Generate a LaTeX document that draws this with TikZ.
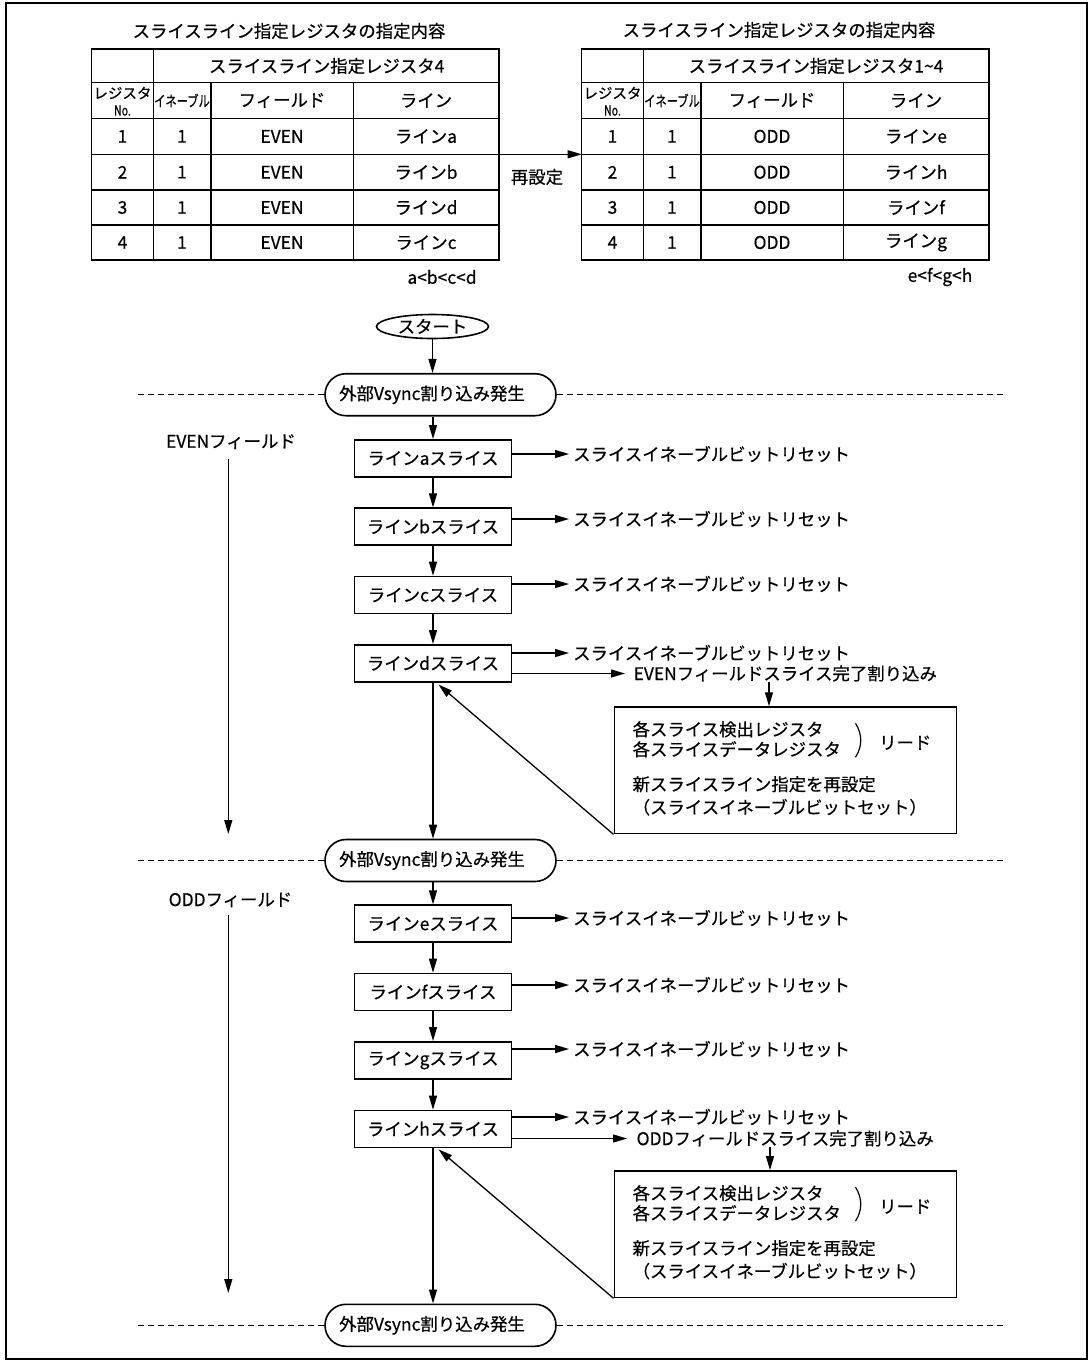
\documentclass[tikz,border=0pt]{standalone}
\usepackage{fontspec}
\setmainfont{Noto Sans CJK JP}[FakeBold=0.5]
\newfontfamily\jpnarrow[FakeStretch=0.75,FakeBold=0.5]{Noto Sans CJK JP}
\usetikzlibrary{arrows.meta,shapes.geometric}
\newcommand{\fsz}{\fontsize{17.4}{21}\selectfont}

\begin{document}
\begin{tikzpicture}
		[x=1pt, y=-1pt, line width=1.3pt, >={Triangle[length=14pt,width=8pt]},
		every node/.style={font=\fsz, inner sep=0},
		slicebox/.style={draw, line width=1.6pt, minimum width=157pt, minimum height=37pt},
		vsync/.style={draw, line width=1.6pt, rounded corners=21pt, minimum width=231pt, minimum height=42pt},
		readbox/.style={draw, line width=1.6pt, minimum width=342pt, minimum height=126.5pt},
		note/.style={anchor=west, inner xsep=3.5pt},
		field/.style={dash pattern=on 6pt off 4pt, line width=1.1pt}]
		\useasboundingbox (0,0) rectangle (1088,1361);
		\draw[line width=2pt] (5.7,3) rectangle (1086.5,1358.5);
		\node (ttl1) at (289,31) {スライスライン指定レジスタの指定内容};
		\node (ttl2) at (779,30) {スライスライン指定レジスタの指定内容};
		\foreach \dx in {0,490}
		{
			\draw[line width=1.5pt] (91.7+\dx,49) rectangle (499+\dx,260);
			\foreach \y in {82.7,118.5,154.3,190,225}
				\draw (91.7+\dx,\y) -- (499+\dx,\y);
			\draw (153.3+\dx,49) -- (153.3+\dx,260);
			\foreach \x in {211,353.3}
				\draw (\x+\dx,82.7) -- (\x+\dx,260);
			\node at (122.5+\dx,93) {\fontsize{14.5}{15}\selectfont レジスタ};
			\node at (122.5+\dx,110.5) {\jpnarrow\fontsize{14}{15}\selectfont No.};
			\node at (182+\dx,100.5) {\jpnarrow\fontsize{15}{15}\selectfont イネーブル};
			\node at (282+\dx,100.5) {フィールド};
			\node at (426+\dx,100.5) {ライン};
		}
		\node (hd1) at (326.7,66) {スライスライン指定レジスタ4};
		\node (hd2) at (816,66) {スライスライン指定レジスタ1\textasciitilde 4};
		\foreach \y/\ltr [count=\i] in {136.4/a,172.2/b,207.5/d,242.5/c}
		{
			\node at (122.5,\y) {\i};
			\node at (182,\y) {1};
			\node at (282,\y) {EVEN};
			\node at (426,\y) {ライン\ltr};
		}
		\foreach \y/\ltr [count=\i] in {136.4/e,172.2/h,207.5/f,242.5/g}
		{
			\node at (612.5,\y) {\i};
			\node at (672,\y) {1};
			\node at (772,\y) {ODD};
			\node at (916,\y) {ライン\ltr};
		}
		\node (ord1) at (442,277) {a<b<c<d};
		\node (ord2) at (940,277) {e<f<g<h};
		\coordinate (rsA) at (499,154.3);
		\coordinate (rsB) at (581.7,154.3);
		\draw[->] (rsA) -- (rsB);
		\node (rs) at (537,177) {再設定};
		\node[ellipse, draw, line width=1.6pt, minimum width=112pt, minimum height=24pt, text height=13.2pt, text depth=0pt] (st) at (432.5,326.5) {スタート};
		\node[vsync] (v1) at (440.5,394.7) {外部Vsync割り込み発生\hspace*{17pt}};
		\node[vsync] (v2) at (440.5,860.5) {外部Vsync割り込み発生\hspace*{17pt}};
		\node[vsync] (v3) at (440.5,1325.3) {外部Vsync割り込み発生\hspace*{17pt}};
		\foreach \v in {v1,v2,v3}
		{
			\draw[field] (\v.west) -- ++(-188,0);
			\draw[field] (\v.east) -- ++(446.5,0);
		}
		\foreach \n/\y in {a/458.3,b/526.7,c/595,d/663.3,e/923.7,f/992,g/1060.3,h/1129}
			\node[slicebox] (\n) at (433,\y) {ライン\n{}スライス};
		\foreach \n/\y in {a/454,b/519,c/584,d/653,e/918,f/985,g/1049,h/1117}
		{
			\node[note] (r\n) at (569,\y) {スライスイネーブルビットリセット};
			\draw[->] (r\n.west -| \n.east) -- (r\n.west);
		}
		\draw[->] (st.south) -- (v1.north -| st.south);
		\draw[->] (v1.south -| a) -- (a);
		\foreach \p/\n in {a/b,b/c,c/d,e/f,f/g,g/h}
			\draw[->] (\p) -- (\n);
		\draw[->] (d) -- (v2.north -| d);
		\draw[->] (v2.south -| e) -- (e);
		\draw[->] (h) -- (v3.north -| h);
		\node (evl) at (231,441.7) {EVENフィールド};
		\node (odl) at (230.5,900) {ODDフィールド};
		\coordinate (ev0) at (228.3,459);
		\coordinate (ev1) at (228.3,834);
		\coordinate (od0) at (228.3,915);
		\coordinate (od1) at (228.3,1293);
		\draw[->] (ev0) -- (ev1);
		\draw[->] (od0) -- (od1);
		\node[anchor=west, inner xsep=8pt] (ec) at (625,673.5) {EVENフィールドスライス完了割り込み};
		\node[anchor=west, inner xsep=9pt] (oc) at (627,1138.5) {ODDフィールドスライス完了割り込み};
		\draw[->] (ec.west -| d.east) -- (ec.west);
		\draw[->] (oc.west -| h.east) -- (oc.west);
		\node[readbox] (bx1) at (785.3,770.3) {};
		\node[readbox] (bx2) at (785.3,1234.2) {};
		\coordinate (edn) at (769,0);
		\coordinate (odn) at (770,0);
		\draw[->] (ec.south -| edn) -- (bx1.north -| edn);
		\draw[->] (oc.south -| odn) -- (bx2.north -| odn);
		\foreach \b in {bx1,bx2}
		{
			\node[anchor=west] (\b t1) at ([xshift=18.5pt,yshift=-23pt]\b.north west) {各スライス検出レジスタ};
			\node[anchor=west] (\b t2) at ([xshift=18.5pt,yshift=-43pt]\b.north west) {各スライスデータレジスタ};
			\node[anchor=west] (\b t3) at ([xshift=18.5pt,yshift=-78pt]\b.north west) {新スライスライン指定を再設定};
			\node[anchor=west] (\b t4) at ([xshift=18.5pt,yshift=-101pt]\b.north west) {（スライスイネーブルビットセット）};
			\node[anchor=west] (\b rd) at ([xshift=265pt,yshift=-36.5pt]\b.north west) {リード};
			\draw[line width=1.2pt] ([xshift=242pt,yshift=-17pt]\b.north west) .. controls ([xshift=249pt,yshift=-28pt]\b.north west) and ([xshift=249pt,yshift=-40pt]\b.north west) .. ([xshift=242pt,yshift=-51pt]\b.north west);
		}
		\draw[->] (bx1.south west) -- ([xshift=5.5pt,yshift=-2pt]d.south);
		\draw[->] (bx2.south west) -- ([xshift=5.5pt,yshift=-1pt]h.south);
	\end{tikzpicture}
\end{document}
